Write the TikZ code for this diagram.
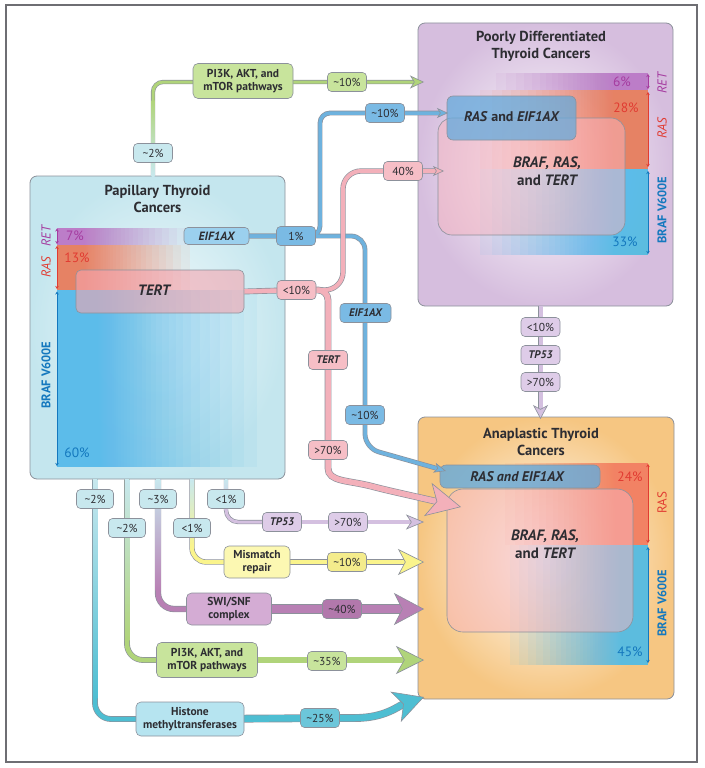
\documentclass[tikz,border=0pt]{standalone}
\usepackage{fontspec}
\setmainfont{PT Sans}
\usetikzlibrary{arrows.meta}
\definecolor{edgec}{RGB}{140,145,155}
\definecolor{framec}{RGB}{110,110,115}
\definecolor{ptcbg}{RGB}{196,230,238}
\definecolor{pdtcbg}{RGB}{214,190,222}
\definecolor{atcbg}{RGB}{246,198,130}
\definecolor{ltblue}{RGB}{200,232,238}
\definecolor{eifc}{RGB}{110,178,222}
\definecolor{eifp}{RGB}{122,186,228}
\definecolor{eifl}{RGB}{155,208,238}
\definecolor{tertc}{RGB}{243,176,186}
\definecolor{tertp}{RGB}{246,190,198}
\definecolor{greenc}{RGB}{176,212,122}
\definecolor{greenp}{RGB}{200,228,156}
\definecolor{purc}{RGB}{184,128,180}
\definecolor{purp}{RGB}{178,120,172}
\definecolor{purbox}{RGB}{212,172,212}
\definecolor{yelc}{RGB}{250,244,140}
\definecolor{yelp}{RGB}{252,248,178}
\definecolor{yelp2}{RGB}{244,236,140}
\definecolor{lilc}{RGB}{212,192,224}
\definecolor{lilp}{RGB}{222,204,232}
\definecolor{cyanc}{RGB}{78,190,210}
\definecolor{cyanp}{RGB}{108,198,218}
\definecolor{cyanbox}{RGB}{182,228,240}
\definecolor{retl}{RGB}{165,60,160}
\definecolor{rasl}{RGB}{225,60,50}
\definecolor{brafl}{RGB}{20,120,190}
\definecolor{retb}{RGB}{188,125,200}
\definecolor{rasb}{RGB}{242,130,100}
\definecolor{brafb}{RGB}{92,188,234}
\definecolor{textc}{RGB}{45,45,50}
\definecolor{tertbox}{RGB}{245,165,175}
\definecolor{brtbox}{RGB}{248,182,192}
\definecolor{rasebox}{RGB}{100,170,220}
\pgfdeclarelayer{back}
\pgfdeclarelayer{tubes}
\pgfsetlayers{back,tubes,main}
% band fading by stacked translucent rectangles: colour, opaque-end x, clear-end x, y1, y2
\newcommand\fadeband[5]{%
  \foreach \k in {1,...,40}{%
    \pgfmathsetmacro\xe{#2+0.15*(#3-#2)+0.85*(#3-#2)*(0.92^\k)}%
    \fill[#1, fill opacity=0.08] (#2,#4) rectangle (\xe,#5);%
  }}
\tikzset{
  pill/.style={draw=edgec, line width=0.6pt, rounded corners=4pt, minimum height=19pt, minimum width=39pt, inner sep=1.5pt, font=\fontsize{11.5}{12}\selectfont, text=textc},
  bip/.style={font=\fontsize{11}{12}\selectfont\bfseries\itshape},
  gbox/.style={draw=edgec, line width=0.6pt, rounded corners=5pt, align=center, inner sep=2pt, font=\fontsize{11.5}{13}\selectfont\bfseries, text=textc},
  bigbox/.style={draw=edgec, line width=0.8pt, rounded corners=7pt, inner sep=0pt},
  ttl/.style={align=center, font=\fontsize{14.5}{17}\selectfont\bfseries, text=textc},
  tg/.style args={#1/#2}{line width=#1+1.3pt, draw=edgec, rounded corners=10pt, shorten >=#2},
  tc/.style args={#1/#2}{line width=#1, draw=#2, rounded corners=10pt},
  tip/.style args={#1/#2/#3/#4}{-{Stealth[length=#1, width=#2, inset=#3, fill=#4, color=edgec, line width=0.6pt]}},
  ax/.style={line width=0.7pt, draw=#1, {Stealth[length=3pt,width=3.5pt]}-{Stealth[length=3pt,width=3.5pt]}},
  rl/.style={rotate=90, text=#1, font=\fontsize{13}{13}\selectfont},
  pct/.style={text=#1, font=\fontsize{13.5}{14}\selectfont},
  inbox/.style={draw=edgec, line width=0.6pt},
  intxt/.style={text=textc, font=\fontsize{14}{14}\selectfont\bfseries},
}
\begin{document}
\begin{tikzpicture}[x=1pt,y=-1pt]
\useasboundingbox (0,0) rectangle (704,768);
\draw[framec, line width=1.5pt] (6,5) rectangle (697,762);

\begin{pgfonlayer}{back}
% PTC
\node[bigbox, inner color=ptcbg!20!white, outer color=ptcbg, minimum width=255pt, minimum height=303pt] (ptc) at (157.5,327.5) {};
\fadeband{retb}{57}{195}{228}{245}
\fadeband{rasb}{57}{200}{245}{290}
\fadeband{brafb}{57}{272}{290}{467}
\node[inbox, rounded corners=5pt, fill=tertbox, fill opacity=0.6, minimum width=168pt, minimum height=43pt] (tertB) at (160,291.5) {};
% PDTC
\node[bigbox, inner color=white, outer color=pdtcbg, minimum width=255pt, minimum height=283pt] (pdtc) at (545.5,164.5) {};
\fadeband{retb}{648}{485}{73}{90}
\fadeband{rasb}{648}{468}{90}{169}
\fadeband{brafb}{648}{468}{169}{255}
\node[inbox, rounded corners=14pt, fill=brtbox, fill opacity=0.5, minimum width=187pt, minimum height=117pt] (pdB) at (531.5,176.5) {};
\node[inbox, rounded corners=6pt, fill=rasebox, fill opacity=0.75, minimum width=129pt, minimum height=44pt] (pdR) at (511.5,118) {};
% ATC
\node[bigbox, inner color=white, outer color=atcbg, minimum width=256pt, minimum height=282pt] (atc) at (546,558) {};
\fadeband{rasb}{648}{495}{463}{545}
\fadeband{brafb}{648}{500}{545}{665}
\node[inbox, rounded corners=6pt, fill=rasebox, fill opacity=0.8, minimum width=160pt, minimum height=23pt] (atR) at (520,476.5) {};
\node[inbox, rounded corners=16pt, fill=brtbox, fill opacity=0.5, minimum width=186pt, minimum height=143pt] (atB) at (540,560.5) {};
\end{pgfonlayer}

% titles and inner texts
\node[ttl] (ptcT) at (157.5,199) {Papillary Thyroid\\Cancers};
\node[ttl] (pdtcT) at (541,46.5) {Poorly Differentiated\\Thyroid Cancers};
\node[ttl] (atcT) at (541,441.5) {Anaplastic Thyroid\\Cancers};
\node[intxt, font=\fontsize{15}{15}\selectfont\bfseries\itshape] (tertT) at (154,290) {TERT};
\node[intxt] (pdRT) at (512,117) {\textit{RAS} and \textit{EIF1AX}};
\node[intxt, align=center, font=\fontsize{15}{18}\selectfont\bfseries\itshape] (pdBT) at (547,171) {BRAF, RAS,\\\textup{and} TERT};
\node[intxt, font=\fontsize{14}{14}\selectfont\bfseries\itshape] (atRT) at (517,477) {RAS and EIF1AX};
\node[intxt, align=center, font=\fontsize{15}{18}\selectfont\bfseries\itshape] (atBT) at (545,544) {BRAF, RAS,\\\textup{and} TERT};

% side scales
\draw[ax=retl] (57,228.5) -- (57,244);
\draw[ax=rasl] (57,246) -- (57,289);
\draw[ax=brafl] (57,291.5) -- (57,466);
\node[rl=retl] (l1) at (46,236) {\itshape RET};
\node[rl=rasl] (l2) at (46,267) {\itshape RAS};
\node[rl=brafl, font=\fontsize{12.5}{13}\selectfont] (l3) at (46,375) {\bfseries BRAF V600E};
\node[pct=retl] (q1) at (75,236) {7\%};
\node[pct=rasl] (q2) at (77,258) {13\%};
\node[pct=brafl] (q3) at (77,453) {60\%};

\draw[ax=retl] (648,74) -- (648,89);
\draw[ax=rasl] (648,92) -- (648,167);
\draw[ax=brafl] (648,171) -- (648,254);
\node[rl=retl] (l4) at (662,83) {\itshape RET};
\node[rl=rasl] (l5) at (662,128) {\itshape RAS};
\node[rl=brafl, font=\fontsize{12.5}{13}\selectfont] (l6) at (662,210) {\bfseries BRAF V600E};
\node[pct=retl] (q4) at (622,82) {6\%};
\node[pct=rasl] (q5) at (626,108) {28\%};
\node[pct=brafl] (q6) at (625,242) {33\%};

\draw[ax=rasl] (648,464) -- (648,543);
\draw[ax=brafl] (648,547) -- (648,663);
\node[rl=rasl] (l7) at (662,503) {RAS};
\node[rl=brafl, font=\fontsize{12.5}{13}\selectfont] (l8) at (662,603) {\bfseries BRAF V600E};
\node[pct=rasl] (q7) at (630,477) {24\%};
\node[pct=brafl] (q8) at (630,652) {45\%};

% pills and boxes
\node[pill, fill=ltblue] (pg2) at (153,153) {\textasciitilde2\%};
\node[gbox, fill=greenp, minimum width=100pt, minimum height=35pt] (pi3ka) at (243,81) {PI3K, AKT, and\\mTOR pathways};
\node[pill, fill=greenp] (pg10) at (347,82) {\textasciitilde10\%};
\node[pill, fill=eifl, minimum width=65pt, minimum height=17pt, font=\fontsize{12}{12}\selectfont\bfseries\itshape] (eifA) at (216.5,236) {EIF1AX};
\node[pill, fill=eifp] (p1) at (296,236) {1\%};
\node[pill, fill=eifp] (pb10) at (385,113) {\textasciitilde10\%};
\node[pill, bip, fill=eifp, minimum width=51pt] (eif2) at (365.5,313) {EIF1AX};
\node[pill, fill=eifp] (pb10b) at (365,415) {\textasciitilde10\%};
\node[pill, fill=tertp] (lt10) at (296.5,290) {<10\%};
\node[pill, fill=tertp] (p40) at (403,171) {40\%};
\node[pill, bip, fill=tertp] (tertpill) at (328,360) {TERT};
\node[pill, fill=tertp] (p70) at (328,450) {>70\%};
\node[pill, fill=lilp] (l10) at (540.5,327) {<10\%};
\node[pill, bip, fill=lilp] (tp53a) at (540.5,355) {TP53};
\node[pill, fill=lilp] (l70) at (540.5,382) {>70\%};
\node[pill, fill=ltblue, minimum width=37pt] (c2) at (95,499) {\textasciitilde2\%};
\node[pill, fill=ltblue, minimum width=37pt] (g2) at (127,528) {\textasciitilde2\%};
\node[pill, fill=ltblue, minimum width=37pt] (s3) at (158,499) {\textasciitilde3\%};
\node[pill, fill=ltblue, minimum width=37pt] (m1) at (192,528) {<1\%};
\node[pill, fill=ltblue, minimum width=37pt] (t1) at (226,499) {<1\%};
\node[pill, bip, fill=lilp] (tp53b) at (282,522) {TP53};
\node[pill, fill=lilp] (tp70) at (348,522) {>70\%};
\node[gbox, fill=yelp, minimum width=66pt, minimum height=32pt] (mmr) at (257,562) {Mismatch\\repair};
\node[pill, fill=yelp2] (y10) at (347,562) {\textasciitilde10\%};
\node[gbox, fill=purbox, minimum width=85pt, minimum height=32pt] (swi) at (229,609) {SWI/SNF\\complex};
\node[pill, fill=purp] (pu40) at (342,609) {\textasciitilde40\%};
\node[gbox, fill=greenp, minimum width=101pt, minimum height=35pt] (pi3kb) at (207,660) {PI3K, AKT, and\\mTOR pathways};
\node[pill, fill=greenp] (g35) at (327,661) {\textasciitilde35\%};
\node[gbox, fill=cyanbox, minimum width=108pt, minimum height=34pt] (hist) at (190,719) {Histone\\methyltransferases};
\node[pill, fill=cyanp] (c25) at (320,718) {\textasciitilde25\%};

\coordinate (tipG) at (424,82);
\coordinate (bup) at (320,113);
\coordinate (tipB1) at (448,113);
\coordinate (bdn) at (365,448);
\coordinate (tipB2) at (446,471);
\coordinate (pup) at (343,171);
\coordinate (tipP1) at (444,171);
\coordinate (pdn) at (328,458);
\coordinate (tipP2) at (461,507);
\coordinate (tipL) at (540.5,419);
\coordinate (tipT) at (424,522);
\coordinate (tipY) at (424,562);
\coordinate (tipPu) at (424,609);
\coordinate (tipGr) at (424,660);
\coordinate (cyA) at (345,718);
\coordinate (tipC) at (424,697);

\begin{pgfonlayer}{tubes}
% green top
\draw[tg=3pt/9pt] (ptc.north -| pg2) |- (tipG);
\draw[tc=3pt/greenc, tip=14pt/13pt/4pt/greenc] (ptc.north -| pg2) |- (tipG);
\shade[top color=greenc, bottom color=ltblue] (151.5,100) rectangle (154.5,176);
% blue EIF1AX
\draw[tg=3.5pt/7pt] (eifA.center) -| (bup) -- (tipB1);
\draw[tg=3.5pt/8pt, rounded corners=14pt] (eifA.center) -| (bdn) -- (tipB2);
\draw[tc=3.5pt/eifc, tip=11pt/10pt/3pt/eifc] (eifA.center) -| (bup) -- (tipB1);
\draw[tc=3.5pt/eifc, rounded corners=14pt, tip=12pt/10pt/3pt/eifc] (eifA.center) -| (bdn) -- (tipB2);
% pink TERT
\draw[tg=4.5pt/0pt] (tertB.east) -- (lt10.center);
\draw[tg=4pt/7pt, rounded corners=18pt] (lt10.center) -| (pup) -- (tipP1);
\draw[tg=5.5pt/24pt] (lt10.center) -| (pdn) .. controls (328,482) and (348,480) .. (382,489) -- (tipP2);
\draw[tc=4.5pt/tertc] (tertB.east) -- (lt10.center);
\draw[tc=4pt/tertc, rounded corners=18pt, tip=11pt/10pt/3pt/tertc] (lt10.center) -| (pup) -- (tipP1);
\draw[tc=5.5pt/tertc, tip=34pt/34pt/9pt/tertc] (lt10.center) -| (pdn) .. controls (328,482) and (348,480) .. (382,489) -- (tipP2);
% PDTC to ATC
\draw[tg=4pt/9pt] (pdtc.south -| l10) -- (tipL);
\draw[tc=4pt/lilc, tip=14pt/15pt/4pt/lilc] (pdtc.south -| l10) -- (tipL);
% bottom: TP53
\draw[tg=3pt/0pt, rounded corners=12pt] (ptc.south -| t1) |- (tp53b.center);
\draw[tc=3pt/lilc, rounded corners=12pt] (ptc.south -| t1) |- (tp53b.center);
\draw[tg=3.5pt/12pt] (tp53b.center) -- (tipT);
\draw[tc=3.5pt/lilc, tip=18pt/15pt/5pt/lilc] (tp53b.center) -- (tipT);
\shade[top color=ltblue, bottom color=lilc] (224.5,479) rectangle (227.5,510);
% mismatch
\draw[tg=4pt/0pt, rounded corners=14pt] (ptc.south -| m1) |- (mmr.center);
\draw[tc=4pt/yelc, rounded corners=14pt] (ptc.south -| m1) |- (mmr.center);
\draw[tg=4.5pt/18pt] (mmr.center) -- (tipY);
\draw[tc=4.5pt/yelc, tip=26pt/26pt/7pt/yelc] (mmr.center) -- (tipY);
\shade[top color=ltblue, bottom color=yelc] (190,479) rectangle (194,547);
% SWI/SNF
\draw[tg=5pt/0pt, rounded corners=16pt] (ptc.south -| s3) |- (swi.center);
\draw[tc=5pt/purc, rounded corners=16pt] (ptc.south -| s3) |- (swi.center);
\draw[tg=8pt/21pt] (swi.center) -- (tipPu);
\draw[tc=8pt/purc, tip=30pt/32pt/8pt/purc] (swi.center) -- (tipPu);
\shade[top color=ltblue, bottom color=purc] (155.5,479) rectangle (160.5,590);
% PI3K bottom
\draw[tg=4.5pt/0pt, rounded corners=16pt] (ptc.south -| g2) |- (pi3kb.center);
\draw[tc=4.5pt/greenc, rounded corners=16pt] (ptc.south -| g2) |- (pi3kb.center);
\draw[tg=5.5pt/19pt] (pi3kb.center) -- (tipGr);
\draw[tc=5.5pt/greenc, tip=28pt/28pt/8pt/greenc] (pi3kb.center) -- (tipGr);
\shade[top color=ltblue, bottom color=greenc] (124.75,479) rectangle (129.25,640);
% histone
\draw[tg=4.5pt/0pt, rounded corners=16pt] (ptc.south -| c2) |- (hist.center);
\draw[tc=4.5pt/cyanc, rounded corners=16pt] (ptc.south -| c2) |- (hist.center);
\draw[tg=6.5pt/21pt] (hist.center) -- (cyA) .. controls (385,718) and (398,706) .. (tipC);
\draw[tc=6.5pt/cyanc, tip=30pt/32pt/8pt/cyanc] (hist.center) -- (cyA) .. controls (385,718) and (398,706) .. (tipC);
\shade[top color=ltblue, bottom color=cyanc] (92.75,479) rectangle (97.25,698);
\end{pgfonlayer}
\end{tikzpicture}
\end{document}
